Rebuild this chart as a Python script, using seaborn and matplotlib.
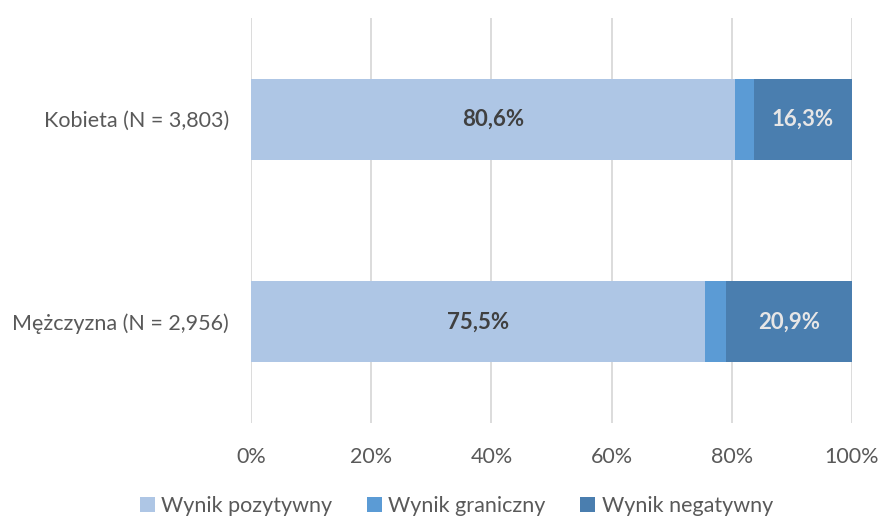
import matplotlib
matplotlib.use("Agg")
import matplotlib.pyplot as plt
import seaborn as sns
import pandas as pd
import numpy as np
from matplotlib.patches import Patch

categories = ["Kobieta (N = 3,803)", "Mężczyzna (N = 2,956)"]
series_names = ["Wynik pozytywny", "Wynik graniczny", "Wynik negatywny"]
pozytywny = [80.6, 75.5]
graniczny = [3.1, 3.6]
negatywny = [16.3, 20.9]
colors = ["#AEC6E5", "#5B9BD5", "#4A7EAF"]
xticks = [0, 20, 40, 60, 80, 100]

sns.set_theme(style="white")
plt.rcParams["font.family"] = ["Lato", "DejaVu Sans"]

fig = plt.figure(figsize=(8.81, 5.18), dpi=100)
ax = fig.add_axes([251/881, 1-423/518, (852-251)/881, 405/518])

vals = np.array([pozytywny, graniczny, negatywny])
cum = np.cumsum(vals, axis=0)

# draw from back (total) to front
for i in reversed(range(3)):
    df = pd.DataFrame({"cat": categories, "val": cum[i]})
    sns.barplot(data=df, y="cat", x="val", orient="h", color=colors[i],
                saturation=1, width=0.4, ax=ax, linewidth=0)

ax.set_xlim(0, 100)
ax.set_ylim(1.5, -0.5)
ax.set_xticks(xticks)
ax.set_xticklabels([f"{t}%" for t in xticks])
ax.xaxis.grid(True, color="#D9D9D9", linewidth=1.3)
ax.set_axisbelow(True)
for s in ax.spines.values():
    s.set_visible(False)
ax.set_xlabel("")
ax.set_ylabel("")
ax.tick_params(axis="both", length=0, labelsize=15.5, labelcolor="#595959")
ax.tick_params(axis="x", pad=17)
ax.tick_params(axis="y", pad=16)

for j in range(2):
    ax.text(pozytywny[j] / 2, j, f"{pozytywny[j]:.1f}%".replace(".", ","),
            ha="center", va="center", fontsize=16, fontweight="bold", color="#404040")
    x_neg = cum[1][j] + negatywny[j] / 2
    ax.text(x_neg, j, f"{negatywny[j]:.1f}%".replace(".", ","),
            ha="center", va="center", fontsize=16, fontweight="bold", color="#E7E6E6")

handles = [Patch(facecolor=c, edgecolor="none") for c in colors]
fig.legend(handles, series_names, loc="center", bbox_to_anchor=(0.518, 1-506/518),
           ncol=3, frameon=False, fontsize=15.5, handlelength=0.7, handleheight=0.7,
           handletextpad=0.3, columnspacing=1.6, labelcolor="#595959")

fig.savefig("out.png", dpi=100)
